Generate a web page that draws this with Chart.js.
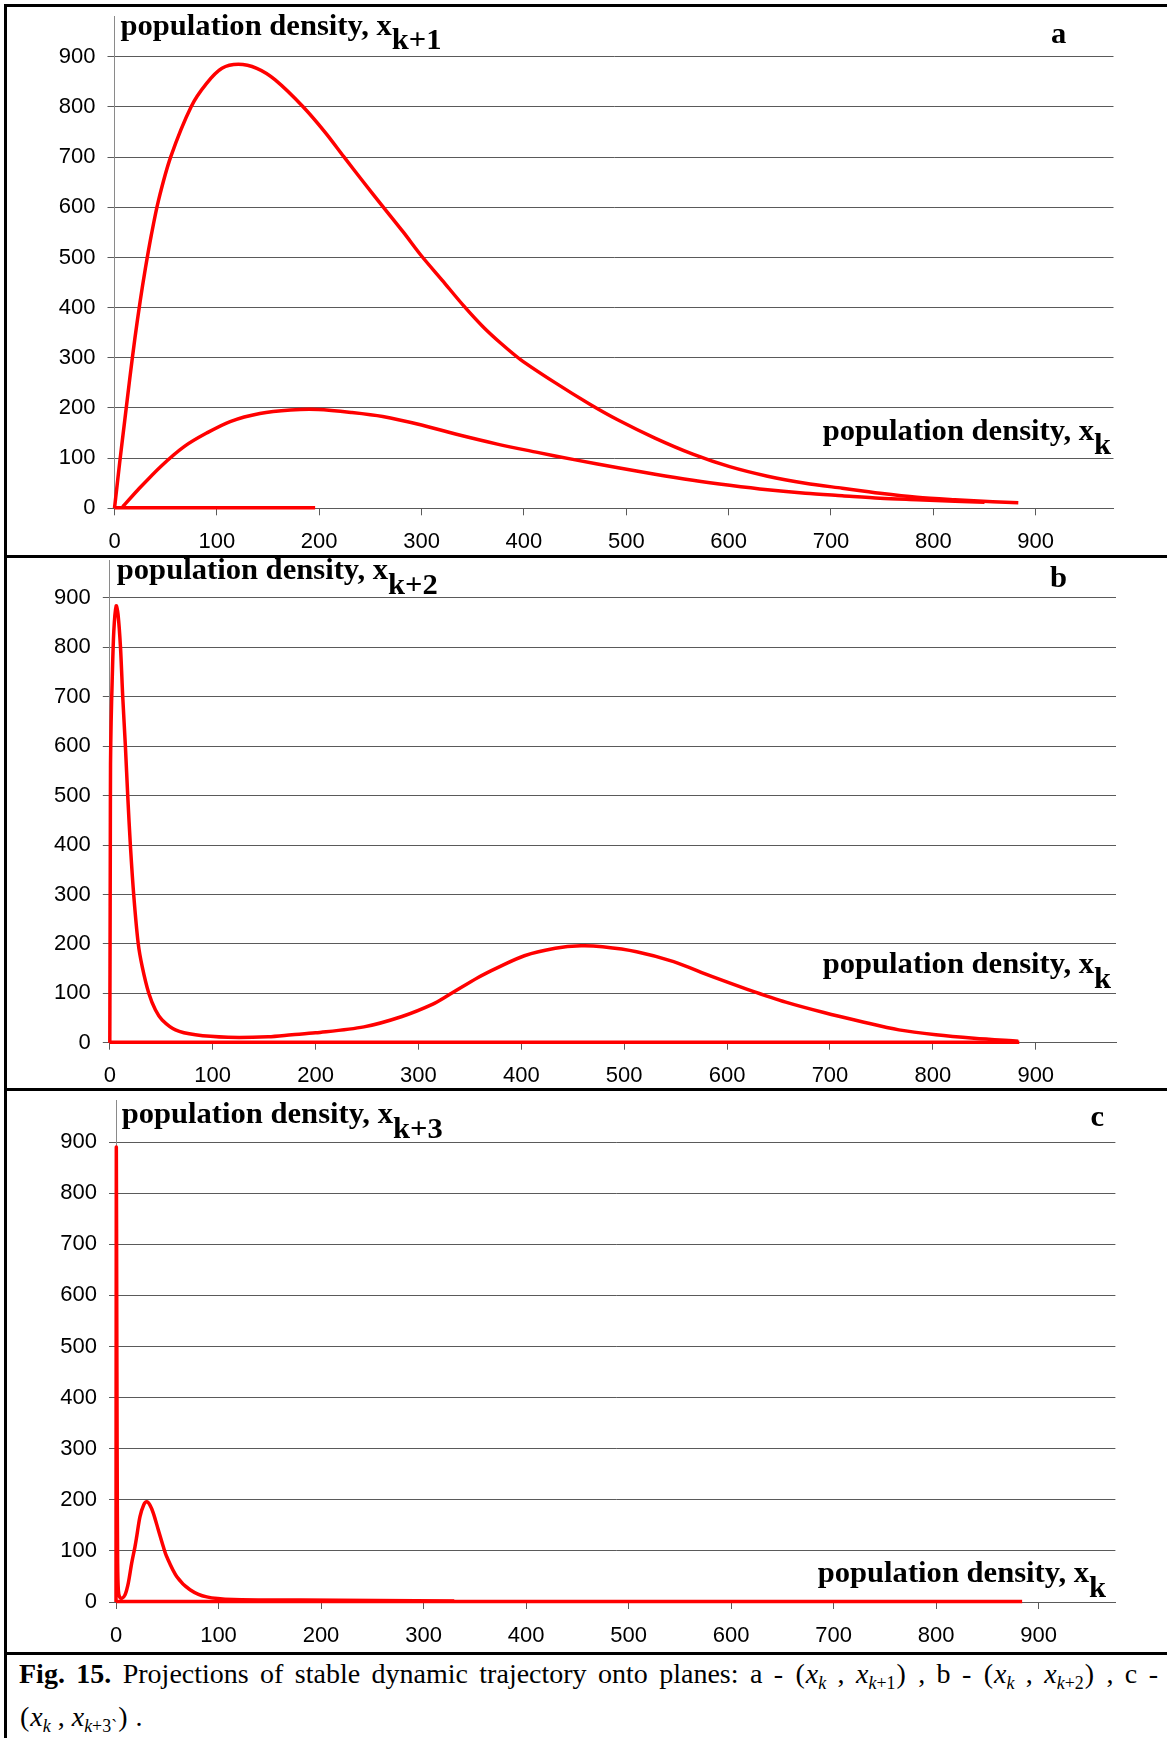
<!DOCTYPE html>
<html>
<head>
<meta charset="utf-8">
<script src="https://cdn.jsdelivr.net/npm/chart.js@4.4.1/dist/chart.umd.min.js"></script>
<style>
html,body{margin:0;padding:0;background:#fff;}
body{width:1167px;height:1738px;overflow:hidden;position:relative;}
.frame{position:absolute;background:#000;z-index:5;}
canvas{position:absolute;left:0;}
.cap{position:absolute;left:19px;width:1139px;font-family:"Liberation Serif","Times New Roman",serif;font-size:28px;color:#000;white-space:nowrap;}
.cap .p{display:inline-block;margin:0 1px;}
.cap sub{font-size:0.64em;vertical-align:-0.34em;line-height:0;}
.cap i{font-style:italic;}
</style>
</head>
<body>
<div class="frame" style="left:4px;top:4px;width:3px;height:1740px"></div>
<div class="frame" style="left:4px;top:4px;width:1170px;height:3px"></div>
<div class="frame" style="left:4px;top:555px;width:1170px;height:3px"></div>
<div class="frame" style="left:4px;top:1088px;width:1170px;height:3px"></div>
<div class="frame" style="left:4px;top:1652px;width:1170px;height:3px"></div>

<canvas id="chartA" width="1167" height="546" style="top:8px"></canvas>
<canvas id="chartB" width="1167" height="530" style="top:558px"></canvas>
<canvas id="chartC" width="1167" height="561" style="top:1091px"></canvas>

<div class="cap" style="top:1653px;height:42.7px;line-height:42.7px;text-align:justify;text-align-last:justify;"><b>Fig. 15.</b> Projections of stable dynamic trajectory onto planes: a - <span class="p">(</span><i>x</i><sub><i>k</i></sub> , <i>x</i><sub><i>k</i>+1</sub><span class="p">)</span> , b - <span class="p">(</span><i>x</i><sub><i>k</i></sub> , <i>x</i><sub><i>k</i>+2</sub><span class="p">)</span> , c -</div>
<div class="cap" style="top:1695.7px;height:42.7px;line-height:42.7px;"><span class="p">(</span><i>x</i><sub><i>k</i></sub> , <i>x</i><sub><i>k</i>+3`</sub><span class="p">)</span> .</div>

<script>
// ---- tick values (both axes) ----
const tickValues = [0, 100, 200, 300, 400, 500, 600, 700, 800, 900];

// ---- panel a : (x_k, x_k+1) ----
const aUpperX = [0,5,10,15,20,25,30,36,43,55,75,90,105,121,139,157,184,206,224,243,262,282,300,320,341,360,378,397,430,464,492,528,565,601,638,675,711,748,784,821,858,883];
const aUpperY = [0,90,175,260,340,412,476,545,614,701,801,847,877,885,877,854,801,749,701,651,602,551,503,455,404,362,328,296,251,208,176,140,108,83,64,50,40,30,22,17,13,11];
const aLowerX = [8,23,45,68,90,113,142,172,199,232,262,300,337,374,412,449,492,528,565,601,638,675,711,748,784,821,850];
const aLowerY = [3,37,83,123,150,173,189,196,197,191,183,166,146,128,112,97,81,68,56,46,37,30,25,20,17,14,12];
const aBaseX = [0,196];
const aBaseY = [1,1];

// ---- panel b : (x_k, x_k+2) ----
const bMainX = [0,0.2,0.5,0.7,1.3,2.3,3.9,6.2,8,10.4,12.6,15.2,17.5,20.1,23.4,27.6,31.5,37.9,44.4,50.9,63.8,83.2,115,154,177,200,247,284,314,329,358,377,403,433,458,479,512,548,585,621,657,694,730,767,803,840,883];
const bMainY = [0,150,400,564,650,732,833,884,867,800,699,598,497,396,295,201,154,100,66,46,26,16,11,12,16,20,32,53,78,96,132,152,176,191,196,194,184,164,134,107,82,61,43,26,16,9,3];
const bBaseX = [0,884];
const bBaseY = [1,1];

// ---- panel c : (x_k, x_k+3) ----
const cMainX = [0,0.3,0.7,1.1,1.6,2.3,3.5,5.6,8.8,12,15.3,18.5,20.2,23.4,27,30,33,36.4,41.3,46.2,49.4,59.2,72.2,88.5,114.5,180,330];
const cMainY = [0,885,600,300,76,23,10,7,14,37,76,108,128,167,190,196,190,174,141,108,89,50,24,10,5,4,2];
const cBaseX = [0,884];
const cBaseY = [1,1];

// ---- texts ----
const titleMain = 'population density, x';
const ySubs = ['k+1', 'k+2', 'k+3'];
const xSub = 'k';
const panelLetters = ['a', 'b', 'c'];

const RED = '#ff0000';
const GRID = '#5a5a5a';
const AXIS = '#8a8a8a';
const tickFont = {family: '"Liberation Sans", Arial, sans-serif', size: 22};
const STRETCH = 1.02;

function pts(xs, ys) { return xs.map((x, i) => ({x: x, y: ys[i]})); }

const titlePlugin = {
  id: 'titles',
  afterDraw(chart, args, o) {
    const ctx = chart.ctx, ca = chart.chartArea;
    ctx.save();
    ctx.fillStyle = '#000';
    ctx.font = 'bold 30px "Liberation Serif", "Times New Roman", serif';
    ctx.textBaseline = 'alphabetic';
    ctx.textAlign = 'left';
    const wm = ctx.measureText(o.main).width * STRETCH;
    const wx = ctx.measureText(o.xSub).width * STRETCH;
    const put = (txt, x, y) => {
      ctx.save();
      ctx.translate(x, y);
      ctx.scale(STRETCH, 1);
      ctx.fillText(txt, 0, 0);
      ctx.restore();
    };
    // y-axis title (horizontal, top left)
    const x = ca.left + o.yDx, y = ca.top + o.yDy;
    put(o.main, x, y);
    put(o.ySub, x + wm, y + o.drop);
    // x-axis title (right, above axis)
    const xr = ca.right + o.xDx - wm - wx, yb = ca.bottom - o.xDy;
    put(o.main, xr, yb);
    put(o.xSub, xr + wm, yb + o.drop);
    // panel letter
    put(o.letter, ca.right + o.lDx, ca.top + o.lDy);
    ctx.restore();
  }
};

function build(id, top, height, area, xMax, yMax, sets, t) {
  const xH = 45;
  return new Chart(document.getElementById(id), {
    type: 'scatter',
    data: {
      datasets: sets.map(s => ({
        data: s, showLine: true, borderColor: RED, backgroundColor: RED,
        borderWidth: 3.5, pointRadius: 0, tension: 0.3, clip: false
      }))
    },
    options: {
      responsive: false, animation: false, devicePixelRatio: 1,
      layout: {padding: {left: 0, right: 1167 - area.right, top: area.top - top, bottom: top + height - area.bottom - xH}},
      plugins: {legend: {display: false}, tooltip: {enabled: false}, titles: t},
      scales: {
        x: {
          type: 'linear', min: 0, max: xMax,
          afterBuildTicks: s => { s.ticks = tickValues.map(v => ({value: v})); },
          afterFit: s => { s.height = xH; s.paddingLeft = 0; s.paddingRight = 0; },
          grid: {drawOnChartArea: false, drawTicks: true, tickLength: 7, color: GRID},
          border: {display: true, color: GRID},
          ticks: {padding: 13.5, font: tickFont, color: '#000', maxRotation: 0, autoSkip: false, callback: v => String(v)}
        },
        y: {
          type: 'linear', min: 0, max: yMax,
          afterBuildTicks: s => { s.ticks = tickValues.map(v => ({value: v})); },
          afterFit: s => { s.width = area.left; s.paddingTop = 0; s.paddingBottom = 0; },
          grid: {drawTicks: true, tickLength: 7, color: GRID},
          border: {display: true, color: AXIS},
          ticks: {padding: 12, font: tickFont, color: '#000', autoSkip: false, callback: v => String(v)}
        }
      }
    },
    plugins: [titlePlugin]
  });
}

build('chartA', 8, 546, {left: 114.5, right: 1113.5, top: 16.7, bottom: 508.3}, 976, 980,
  [pts(aUpperX, aUpperY), pts(aLowerX, aLowerY), pts(aBaseX, aBaseY)],
  {main: titleMain, ySub: ySubs[0], xSub: xSub, letter: panelLetters[0], drop: 14,
   yDx: 6, yDy: 18.3, xDx: -2.5, xDy: 68.3, lDx: -62.5, lDy: 26.3});

build('chartB', 558, 530, {left: 109.8, right: 1116, top: 560.9, bottom: 1042.7}, 978, 975,
  [pts(bMainX, bMainY), pts(bBaseX, bBaseY)],
  {main: titleMain, ySub: ySubs[1], xSub: xSub, letter: panelLetters[1], drop: 15,
   yDx: 7, yDy: 18.4, xDx: -5, xDy: 69.4, lDx: -66, lDy: 26});

build('chartC', 1091, 561, {left: 116, right: 1115.4, top: 1100.7, bottom: 1602}, 975, 981,
  [pts(cMainX, cMainY), pts(cBaseX, cBaseY)],
  {main: titleMain, ySub: ySubs[2], xSub: xSub, letter: panelLetters[2], drop: 15,
   yDx: 5.7, yDy: 22, xDx: -9.4, xDy: 20.3, lDx: -25, lDy: 25});
</script>
</body>
</html>
